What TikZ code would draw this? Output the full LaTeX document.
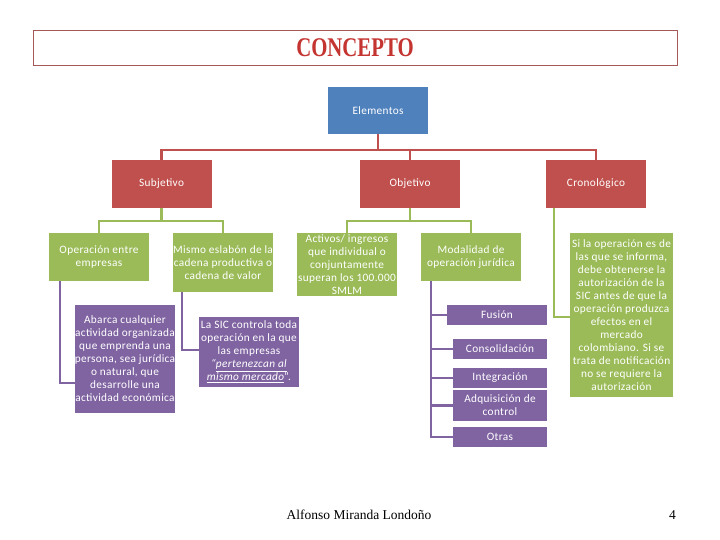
\documentclass[tikz,border=0pt]{standalone}
\usepackage{fontspec}
\usepackage{graphicx}
\setmainfont{Liberation Serif}
\newfontfamily\cf[LetterSpace=3]{Carlito}
\definecolor{redbox}{RGB}{192,80,77}
\definecolor{bluebox}{RGB}{79,129,189}
\definecolor{greenbox}{RGB}{155,187,89}
\definecolor{purplebox}{RGB}{128,100,162}
\definecolor{titlered}{RGB}{196,52,48}
\definecolor{titleborder}{RGB}{165,90,88}
\tikzset{
  cbox/.style={inner sep=0pt, align=center, text=white, font=\cf\fontsize{11.3}{13}\selectfont},
  rbox/.style={cbox, fill=redbox, minimum width=100pt, minimum height=48pt},
  bbox/.style={cbox, fill=bluebox, minimum width=100pt, minimum height=47pt},
  gbox/.style={cbox, fill=greenbox},
  pbox/.style={cbox, fill=purplebox},
  rline/.style={draw=redbox, line width=2.6pt},
  gline/.style={draw=greenbox, line width=2.6pt},
  pline/.style={draw=purplebox, line width=2.6pt},
}
\begin{document}
\begin{tikzpicture}[x=1pt,y=-1pt]
\useasboundingbox[fill=white] (0,0) rectangle (720,540);
% title
\node[draw=titleborder, line width=0.8pt, minimum width=644pt, minimum height=35pt, inner sep=0pt,
  text=titlered] (title) at (355,47.5)
  {\scalebox{0.77}[1]{\fontsize{27}{30}\selectfont\bfseries CONCEPTO}};
% level boxes
\node[bbox] (elem) at (378,110.5) {Elementos};
\node[rbox] (subj) at (161.5,184) {Subjetivo};
\node[rbox] (obj) at (410,184) {Objetivo};
\node[rbox] (cron) at (596,184) {Cronológico};
% green boxes
\node[gbox, minimum width=100pt, minimum height=48pt] (op) at (99,257) {Operación entre\\empresas};
\node[gbox, minimum width=100pt, minimum height=59pt] (mismo) at (223,262.5) {Mismo eslabón de la\\cadena productiva o\\cadena de valor};
\node[gbox, minimum width=100pt, minimum height=63pt] (activos) at (347,264.5) {Activos/ ingresos\\que individual o\\conjuntamente\\superan los 100.000\\SMLM};
\node[gbox, minimum width=100pt, minimum height=48pt] (modal) at (471,257) {Modalidad de\\operación jurídica};
\node[gbox, minimum width=103pt, minimum height=164pt] (sila) at (621.5,315) {Si la operación es de\\las que se informa,\\debe obtenerse la\\autorización de la\\SIC antes de que la\\operación produzca\\efectos en el\\mercado\\colombiano. Si se\\trata de notificación\\no se requiere la\\autorización};
% purple boxes
\node[pbox, minimum width=100pt, minimum height=108pt] (abarca) at (125,359) {Abarca cualquier\\actividad organizada\\que emprenda una\\persona, sea jurídica\\o natural, que\\desarrolle una\\actividad económica};
\node[pbox, minimum width=100pt, minimum height=70pt] (lasic) at (249,352) {La SIC controla toda\\operación en la que\\las empresas\\\textit{“\underline{pertenezcan al}}\\\textit{\underline{mismo mercado}}”.};
\node[pbox, minimum width=100pt, minimum height=20pt] (fusion) at (497,315) {Fusión};
\node[pbox, minimum width=94pt, minimum height=20pt] (consol) at (500,349) {Consolidación};
\node[pbox, minimum width=94pt, minimum height=20pt] (integ) at (500,378) {Integración};
\node[pbox, minimum width=94pt, minimum height=31pt] (adq) at (500,405.5) {Adquisición de\\control};
\node[pbox, minimum width=94pt, minimum height=20pt] (otras) at (500,437) {Otras};
% red connectors
\coordinate (rj) at (378,150);
\draw[rline] (elem.south) -- (rj);
\draw[rline] (subj.north) |- (rj) -| (cron.north);
\draw[rline] (obj.north) -- (obj.north |- rj);
% green connectors
\coordinate (gs) at (161.5,221);
\coordinate (go) at (410,221);
\draw[gline] (subj.south) -- (gs);
\draw[gline] (op.north) |- (gs) -| (mismo.north);
\draw[gline] (obj.south) -- (go);
\draw[gline] (activos.north) |- (go) -| (modal.north);
\draw[gline] ([xshift=-42pt]cron.south) |- ([yshift=-2pt]sila.west);
% purple connectors
\draw[pline] ([xshift=11pt]op.south west) |- ([yshift=-24pt]abarca.west);
\draw[pline] ([xshift=9pt]mismo.south west) |- ([yshift=2pt]lasic.west);
\coordinate (mv) at ([xshift=10pt]modal.south west);
\draw[pline] (mv) |- (otras.west);
\draw[pline] (mv |- fusion.west) -- (fusion.west);
\draw[pline] (mv |- consol.west) -- (consol.west);
\draw[pline] (mv |- integ.west) -- (integ.west);
\draw[pline] (mv |- adq.west) -- (adq.west);
% footer
\node[font=\fontsize{13.5}{15}\selectfont, inner sep=0pt] (author) at (359,515) {Alfonso Miranda Londoño};
\node[font=\fontsize{13.5}{15}\selectfont, inner sep=0pt] (page) at (672.5,515) {4};
\end{tikzpicture}
\end{document}
